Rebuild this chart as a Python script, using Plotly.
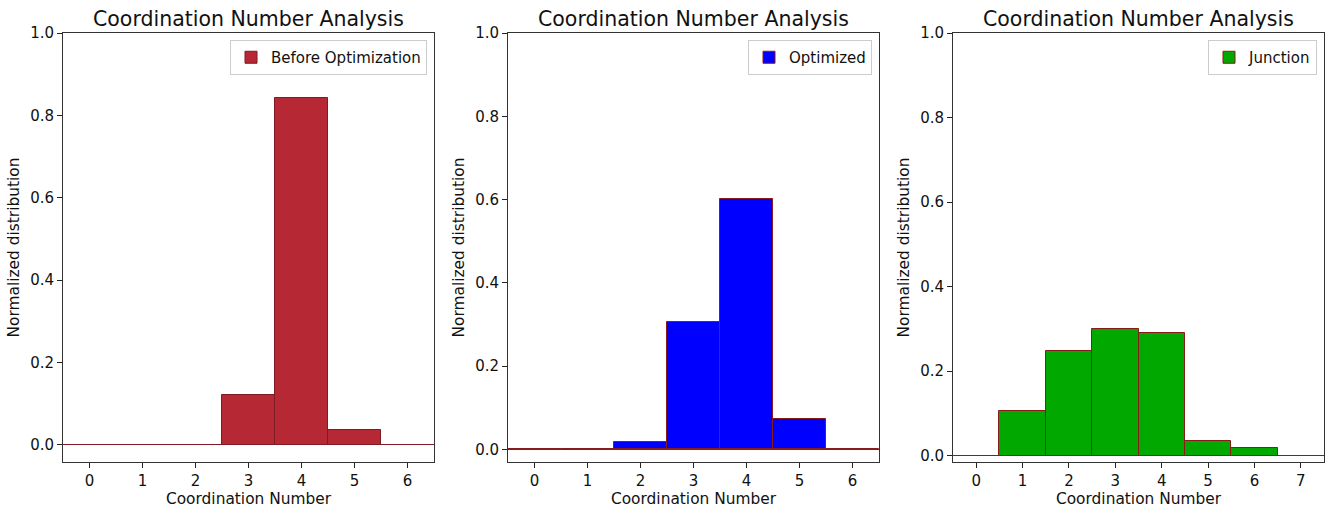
import plotly.graph_objects as go
from plotly.subplots import make_subplots

title_text = "Coordination Number Analysis"
x_label = "Coordination Number"
y_label = "Normalized distribution"

cn_before = [0, 1, 2, 3, 4, 5, 6]
before_vals = [0.0, 0.0, 0.0, 0.121, 0.842, 0.036, 0.0]

cn_opt = [0, 1, 2, 3, 4, 5, 6]
opt_vals = [0.0, 0.0, 0.019, 0.305, 0.602, 0.074, 0.0]

cn_junc = [0, 1, 2, 3, 4, 5, 6, 7]
junc_vals = [0.0, 0.106, 0.248, 0.300, 0.291, 0.035, 0.017, 0.0]

series = [
    ("Before Optimization", cn_before, before_vals, "#B52834", "#7d1a22"),
    ("Optimized", cn_opt, opt_vals, "#0000FF", "#8B1A1A"),
    ("Junction", cn_junc, junc_vals, "#00A800", "#8B1A1A"),
]

W, H = 1328, 508
doms = [(63, 434), (508, 879), (953, 1324)]

fig = make_subplots(rows=1, cols=3)
font = "DejaVu Sans"

for i, (name, xs, ys, fill, edge) in enumerate(series):
    c = i + 1
    leg = "legend" if i == 0 else f"legend{c}"
    fig.add_trace(go.Bar(
        x=xs, y=ys, width=1, name=name,
        marker=dict(color=fill, line=dict(color=edge, width=1)),
        legend=leg, showlegend=True,
    ), row=1, col=c)
    ymax = max(ys)
    xa = "xaxis" if i == 0 else f"xaxis{c}"
    ya = "yaxis" if i == 0 else f"yaxis{c}"
    d0, d1 = doms[i]
    fig.layout[xa].update(
        domain=[d0 / W, d1 / W], range=[-0.5, len(xs) - 0.5],
        tickmode="array", tickvals=xs, ticktext=[str(v) for v in xs],
        ticks="outside", ticklen=5, tickcolor="#222", showline=True, mirror=True,
        linecolor="#333", linewidth=1, showgrid=False, zeroline=False,
        tickfont=dict(family=font, size=15, color="#111"),
        title=dict(text=x_label, font=dict(family=font, size=15.4, color="#111"), standoff=2),
    )
    fig.layout[ya].update(
        range=[-0.05 * ymax, 1.0], tickvals=[0, 0.2, 0.4, 0.6, 0.8, 1.0], tickformat=".1f",
        ticks="outside", ticklen=5, tickcolor="#222", showline=True, mirror=True,
        linecolor="#333", linewidth=1, showgrid=False,
        zeroline=True, zerolinecolor=edge, zerolinewidth=1,
        tickfont=dict(family=font, size=15, color="#111"),
        title=dict(text=y_label, font=dict(family=font, size=15.4, color="#111"), standoff=6),
    )
    fig.add_annotation(
        text=title_text, xref="paper", yref="paper",
        x=(d0 + d1) / 2 / W, y=1.0, xanchor="center", yanchor="bottom", yshift=0,
        showarrow=False, font=dict(family=font, size=20.5, color="#111"),
    )
    fig.layout[leg] = dict(
        x=(d1 - 7) / W, y=1 - 7 / (H - 33 - 46), xanchor="right", yanchor="top",
        bgcolor="white", bordercolor="#cccccc", borderwidth=1,
        font=dict(family=font, size=15, color="#111"),
        tracegroupgap=0, itemwidth=30,
    )

fig.update_layout(
    width=W, height=H, margin=dict(l=0, r=0, t=33, b=46),
    plot_bgcolor="white", paper_bgcolor="white", bargap=0,
)

fig.write_html("out.html", config={"displayModeBar": False},
               post_script="document.body.style.margin='0';")
